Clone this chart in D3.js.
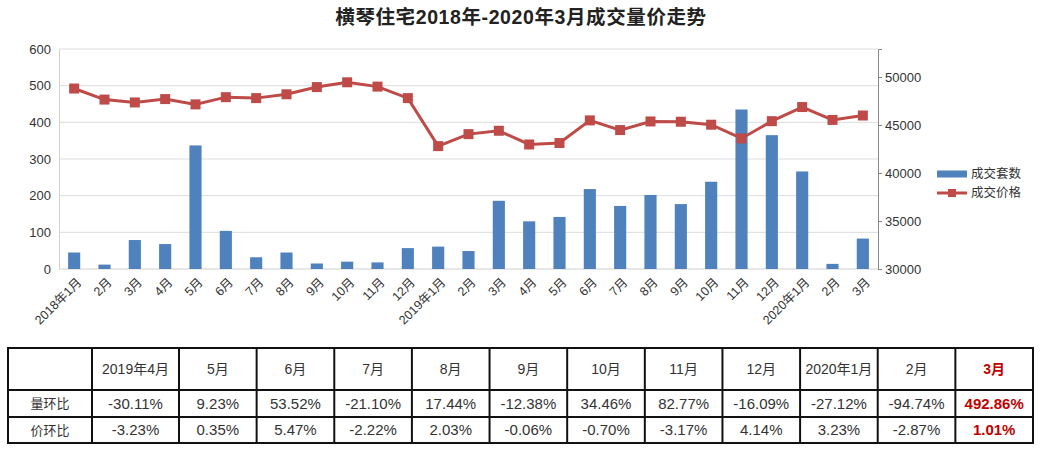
<!DOCTYPE html>
<html>
<head>
<meta charset="utf-8">
<script src="https://cdn.jsdelivr.net/npm/d3@7"></script>
<style>
  html, body { margin: 0; padding: 0; background: #fff; }
  svg { display: block; }
  text { font-family: "Liberation Sans", Arial, "Noto Sans CJK SC", sans-serif; }
</style>
</head>
<body>
<svg id="chart" width="1044" height="450"></svg>
<script>
// ---------- data ----------
const title = "横琴住宅2018年-2020年3月成交量价走势";
const months = ["2018年1月","2月","3月","4月","5月","6月","7月","8月","9月","10月","11月","12月",
                "2019年1月","2月","3月","4月","5月","6月","7月","8月","9月","10月","11月","12月",
                "2020年1月","2月","3月"];
const volume = [45, 12, 79, 68, 337, 104, 32, 45, 15, 20, 18, 57,
                61, 49, 186, 130, 142, 218, 172, 202, 177, 238, 435, 365,
                266, 14, 83];
const price = [48800, 47650, 47350, 47700, 47150, 47900, 47800, 48200, 48950, 49450, 49000, 47800,
               42800, 44050, 44400, 42970, 43120, 45480, 44470, 45370, 45340, 45030, 43600, 45400,
               46870, 45530, 45990];
const leftTicks = [0, 100, 200, 300, 400, 500, 600];
const rightTicks = [30000, 35000, 40000, 45000, 50000];
const seriesNames = ["成交套数", "成交价格"];

const tableHeader = ["", "2019年4月","5月","6月","7月","8月","9月","10月","11月","12月","2020年1月","2月","3月"];
const rowLabels = ["量环比", "价环比"];
const volMoM = ["-30.11%","9.23%","53.52%","-21.10%","17.44%","-12.38%","34.46%","82.77%","-16.09%","-27.12%","-94.74%","492.86%"];
const priceMoM = ["-3.23%","0.35%","5.47%","-2.22%","2.03%","-0.06%","-0.70%","-3.17%","4.14%","3.23%","-2.87%","1.01%"];

// ---------- layout ----------
const svg = d3.select("#chart");
const L = 59, R = 878, T = 49, B = 269;
const barColor = "#4f81bd", lineColor = "#be4b48";

const x = d3.scaleBand().domain(d3.range(months.length)).range([L, R]).paddingInner(0.6).paddingOuter(0.3);
const xc = i => x(i) + x.bandwidth() / 2;
const yL = d3.scaleLinear().domain([0, 600]).range([B, T]);
const yR = d3.scaleLinear().domain([30000, 52917]).range([B, T]);

// title
svg.append("text").attr("x", 521).attr("y", 23.5).attr("text-anchor", "middle")
  .attr("font-size", 19.5).attr("font-weight", "bold").attr("fill", "#222")
  .attr("letter-spacing", 0.6)
  .style("font-family", "'Liberation Sans', 'Noto Sans CJK SC', sans-serif").text(title);

// gridlines
svg.append("g").selectAll("line").data(leftTicks.filter(d => d > 0)).join("line")
  .attr("x1", L).attr("x2", R).attr("y1", d => yL(d)).attr("y2", d => yL(d))
  .attr("stroke", "#dcdcdc").attr("stroke-width", 1);

// left axis
const gl = svg.append("g").attr("transform", `translate(${L},0)`)
  .call(d3.axisLeft(yL).tickValues(leftTicks).tickSize(0).tickPadding(8));
gl.select(".domain").attr("stroke", "#d0d0d0");
gl.selectAll("text").attr("font-size", 13).attr("fill", "#333");

// bottom axis line
svg.append("line").attr("x1", L).attr("x2", R).attr("y1", B).attr("y2", B).attr("stroke", "#d0d0d0");

// right axis
const gr = svg.append("g").attr("transform", `translate(${R},0)`)
  .call(d3.axisRight(yR).tickValues(rightTicks).tickSize(4).tickPadding(3).tickFormat(d3.format("d")));
gr.select(".domain").attr("stroke", "#888");
gr.selectAll(".tick line").attr("stroke", "#888");
gr.selectAll("text").attr("font-size", 13).attr("fill", "#333");

// bars
svg.append("g").selectAll("rect").data(volume).join("rect")
  .attr("x", (d, i) => x(i)).attr("width", x.bandwidth())
  .attr("y", d => yL(d)).attr("height", d => B - yL(d))
  .attr("fill", barColor);

// line
svg.append("path").datum(price)
  .attr("d", d3.line().x((d, i) => xc(i)).y(d => yR(d)))
  .attr("fill", "none").attr("stroke", lineColor).attr("stroke-width", 3);
svg.append("g").selectAll("rect").data(price).join("rect")
  .attr("x", (d, i) => xc(i) - 5).attr("y", d => yR(d) - 5)
  .attr("width", 10).attr("height", 10).attr("fill", lineColor);

// x labels
svg.append("g").selectAll("text").data(months).join("text")
  .attr("transform", (d, i) => `translate(${xc(i) + 5},${B + 11}) rotate(-45)`)
  .attr("text-anchor", "end").attr("dy", "0.35em")
  .attr("font-size", 12.5).attr("fill", "#333").text(d => d);

// legend
const lg = svg.append("g");
lg.append("rect").attr("x", 937).attr("y", 170.5).attr("width", 30).attr("height", 7).attr("fill", barColor);
lg.append("text").attr("x", 971).attr("y", 174).attr("dy", "0.35em").attr("font-size", 12.5).attr("fill", "#333")
  .style("font-family", "'Noto Sans CJK SC', sans-serif").text(seriesNames[0]);
lg.append("line").attr("x1", 937).attr("x2", 967).attr("y1", 193).attr("y2", 193).attr("stroke", lineColor).attr("stroke-width", 3);
lg.append("rect").attr("x", 948).attr("y", 189).attr("width", 8).attr("height", 8).attr("fill", lineColor);
lg.append("text").attr("x", 971).attr("y", 193).attr("dy", "0.35em").attr("font-size", 12.5).attr("fill", "#333")
  .style("font-family", "'Noto Sans CJK SC', sans-serif").text(seriesNames[1]);

// ---------- table ----------
const tL = 8, tR = 1033, firstColW = 84, secondColEnd = 179;
const colEdges = [tL, tL + firstColW, secondColEnd];
const restW = (tR - secondColEnd) / 11;
for (let k = 1; k <= 11; k++) colEdges.push(secondColEnd + restW * k);
const rowEdges = [348, 390, 417, 443];

const tg = svg.append("g");
const rows = [tableHeader, [rowLabels[0], ...volMoM], [rowLabels[1], ...priceMoM]];
rows.forEach((row, r) => {
  row.forEach((txt, c) => {
    const last = c === row.length - 1;
    const isLabel = c === 0;
    const isNumber = r > 0 && c > 0;
    tg.append("text")
      .attr("x", (colEdges[c] + colEdges[c + 1]) / 2)
      .attr("y", (rowEdges[r] + rowEdges[r + 1]) / 2)
      .attr("dy", "0.35em").attr("text-anchor", "middle")
      .attr("font-size", isNumber ? 15 : (isLabel ? 13 : 14))
      .attr("fill", last ? "#c00000" : "#333")
      .attr("font-weight", last ? "bold" : "normal")
      .text(txt);
  });
});
// grid lines of the table
colEdges.forEach(xv => tg.append("line").attr("x1", xv).attr("x2", xv).attr("y1", rowEdges[0]).attr("y2", rowEdges[3])
  .attr("stroke", "#111").attr("stroke-width", 2));
rowEdges.forEach(yv => tg.append("line").attr("x1", tL - 1).attr("x2", tR + 1).attr("y1", yv).attr("y2", yv)
  .attr("stroke", "#111").attr("stroke-width", 2));
</script>
</body>
</html>
